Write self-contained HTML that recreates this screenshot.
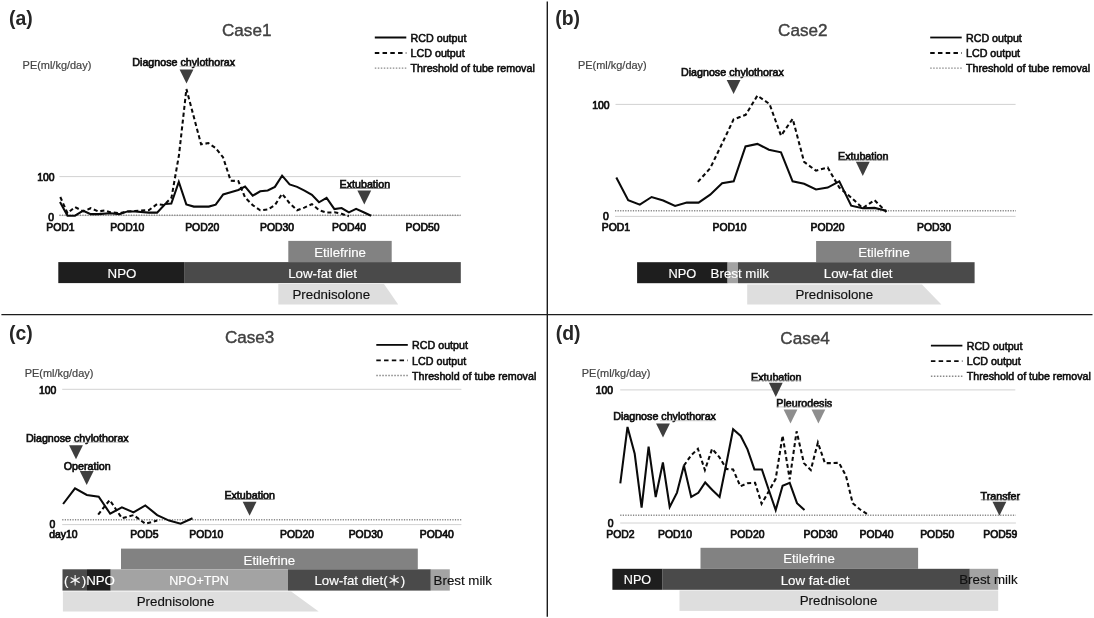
<!DOCTYPE html>
<html lang="en"><head><meta charset="utf-8"><title>Figure: chest tube output in four cases</title>
<style>
html,body{margin:0;padding:0;background:#fff;}
body{width:1094px;height:618px;overflow:hidden;}
svg{display:block;font-family:"Liberation Sans", "Noto Sans CJK JP", sans-serif;filter:grayscale(1);}
.pl{font-size:19.4px;font-weight:bold;fill:#262626;}
.ti{font-size:17.1px;fill:#404040;stroke:#404040;stroke-width:0.4px;}
.pe{font-size:10.95px;fill:#444;stroke:#444;stroke-width:0.2px;}
.ax{font-size:10.4px;fill:#0c0c0c;stroke:#0c0c0c;stroke-width:0.7px;}
.lg{font-size:10.7px;fill:#0c0c0c;stroke:#0c0c0c;stroke-width:0.55px;}
.an{font-size:10.7px;fill:#0c0c0c;stroke:#0c0c0c;stroke-width:0.65px;}
.bw{font-size:13.3px;fill:#fff;stroke:#fff;stroke-width:0.15px;}
.bk{font-size:13.3px;fill:#111;stroke:#111;stroke-width:0.15px;}
.gl{stroke:#d2d2d2;stroke-width:1;fill:none;}
.th{stroke:#8a8a8a;stroke-width:1.4;stroke-dasharray:1.25 1.3;fill:none;}
.so{stroke:#0a0a0a;stroke-width:2.05;fill:none;stroke-linejoin:miter;stroke-linecap:butt;}
.da{stroke:#0a0a0a;stroke-width:2.05;fill:none;stroke-dasharray:4.1 2.8;stroke-linejoin:miter;}
.ul{stroke:#b4b4b4;stroke-width:0.7;fill:none;}
.u2{stroke:#6a6a6a;stroke-width:0.8;fill:none;}
.td{fill:#3e3e3e;}
.tg{fill:#8e8e8e;}
</style></head><body>
<svg width="1094" height="618" viewBox="0 0 1094 618">
<rect x="0" y="0" width="1094" height="618" fill="#fff"/>
<line x1="547.3" y1="1.4" x2="547.3" y2="616.7" stroke="#1c1c1c" stroke-width="1.4"/>
<line x1="1.4" y1="314.6" x2="1092.5" y2="314.6" stroke="#1c1c1c" stroke-width="1.4"/>
<text x="9.00" y="25.20" class="pl">(a)</text>
<text x="222.00" y="35.55" class="ti">Case1</text>
<text x="22.60" y="68.80" class="pe">PE(ml/kg/day)</text>
<line x1="374.8" y1="37.5" x2="406.3" y2="37.5" class="so" style="stroke-width:1.8"/>
<line x1="374.8" y1="53.0" x2="406.3" y2="53.0" class="da" style="stroke-width:1.8;stroke-dasharray:4.5 3.25"/>
<line x1="374.8" y1="68.1" x2="406.3" y2="68.1" class="th" style="stroke-dasharray:1.5 1.5"/>
<text x="410.60" y="41.70" class="lg">RCD output</text>
<text x="410.60" y="57.20" class="lg">LCD output</text>
<text x="410.60" y="72.10" class="lg">Threshold of tube removal</text>
<line x1="59.4" y1="176.6" x2="460.7" y2="176.6" class="gl"/>
<line x1="59.4" y1="215.6" x2="460.7" y2="215.6" class="gl"/>
<line x1="59.4" y1="215.3" x2="460.6" y2="215.3" class="th"/>
<text x="54.60" y="181.15" class="ax" text-anchor="end">100</text>
<text x="54.00" y="220.85" class="ax" text-anchor="end">0</text>
<text x="60.50" y="231.15" class="ax" text-anchor="middle">POD1</text>
<text x="127.30" y="231.15" class="ax" text-anchor="middle">POD10</text>
<text x="202.20" y="231.15" class="ax" text-anchor="middle">POD20</text>
<text x="277.00" y="231.15" class="ax" text-anchor="middle">POD30</text>
<text x="349.00" y="231.15" class="ax" text-anchor="middle">POD40</text>
<text x="422.50" y="231.15" class="ax" text-anchor="middle">POD50</text>
<polyline class="da" points="60.3,197.0 67.5,213.2 75.0,207.0 83.2,211.4 90.7,208.2 98.2,211.4 105.0,210.5 110.0,212.2 119.5,213.2 127.6,211.4 135.0,211.0 149.0,210.1 157.0,204.1 164.0,205.1 171.5,197.6 179.0,155.0 186.4,89.0 201.1,144.4 208.4,143.1 215.7,148.1 223.0,157.2 230.7,180.7 238.3,181.0 245.1,197.6 252.7,205.1 260.2,210.3 267.7,209.5 274.9,205.1 282.1,193.8 289.6,203.2 297.1,210.3 304.4,207.6 311.9,204.1 319.0,210.1 326.6,212.6 334.4,212.3 341.6,213.8 348.9,216.3"/>
<polyline class="so" points="60.0,202.0 67.5,215.7 75.0,215.7 83.2,210.7 90.7,214.1 98.2,214.1 110.1,213.2 119.5,214.1 127.6,211.4 135.1,211.4 148.9,212.6 157.1,212.6 165.2,204.1 171.3,203.5 178.8,181.9 186.3,204.4 193.8,206.6 201.3,206.6 208.8,206.6 215.7,204.7 223.2,194.4 230.7,192.3 238.3,190.0 245.1,186.5 252.7,195.7 260.2,191.3 267.7,190.4 274.9,186.9 282.1,175.6 289.6,184.4 297.1,186.9 304.5,190.7 311.9,194.8 319.0,202.3 326.6,197.8 334.4,209.1 341.6,208.0 348.9,212.3 356.1,208.8 363.6,212.3 371.1,215.7"/>
<text x="132.30" y="65.90" class="an">Diagnose chylothorax</text>
<line x1="179.5" y1="66.3" x2="235" y2="66.3" class="ul"/>
<polygon class="td" points="179.6,69.5 193.4,69.5 186.5,83.6"/>
<text x="339.60" y="188.20" class="an">Extubation</text>
<line x1="339.8" y1="188.4" x2="389.8" y2="188.4" class="u2"/>
<polygon class="td" points="357.4,190.4 371.2,190.4 364.3,204.5"/>
<rect x="288.3" y="240.9" width="103.4" height="21.2" fill="#828282"/>
<rect x="58.3" y="262.1" width="126.4" height="21.0" fill="#1e1e1e"/>
<rect x="184.7" y="262.1" width="276.1" height="21.0" fill="#4a4a4a"/>
<polygon fill="#dedede" points="278.3,284.0 384.0,284.0 398.2,304.6 278.3,304.6"/>
<text x="340.10" y="256.65" class="bw" text-anchor="middle">Etilefrine</text>
<text x="122.00" y="277.55" class="bw" text-anchor="middle">NPO</text>
<text x="322.60" y="277.85" class="bw" text-anchor="middle">Low-fat diet</text>
<text x="331.30" y="299.00" class="bk" text-anchor="middle">Prednisolone</text>
<text x="555.20" y="25.20" class="pl">(b)</text>
<text x="778.10" y="35.55" class="ti">Case2</text>
<text x="578.00" y="69.00" class="pe">PE(ml/kg/day)</text>
<line x1="930.2" y1="37.5" x2="961.7" y2="37.5" class="so" style="stroke-width:1.8"/>
<line x1="930.2" y1="53.0" x2="961.7" y2="53.0" class="da" style="stroke-width:1.8;stroke-dasharray:4.5 3.25"/>
<line x1="930.2" y1="68.1" x2="961.7" y2="68.1" class="th" style="stroke-dasharray:1.5 1.5"/>
<text x="966.00" y="41.70" class="lg">RCD output</text>
<text x="966.00" y="57.20" class="lg">LCD output</text>
<text x="966.00" y="72.10" class="lg">Threshold of tube removal</text>
<line x1="615.5" y1="104.4" x2="1015.6" y2="104.4" class="gl"/>
<line x1="615.0" y1="216.4" x2="1015.6" y2="216.4" class="gl"/>
<line x1="615.0" y1="210.8" x2="1016.0" y2="210.8" class="th"/>
<text x="609.60" y="108.85" class="ax" text-anchor="end">100</text>
<text x="608.90" y="220.05" class="ax" text-anchor="end">0</text>
<text x="615.90" y="230.95" class="ax" text-anchor="middle">POD1</text>
<text x="729.50" y="230.95" class="ax" text-anchor="middle">POD10</text>
<text x="827.50" y="230.95" class="ax" text-anchor="middle">POD20</text>
<text x="934.00" y="230.95" class="ax" text-anchor="middle">POD30</text>
<polyline class="da" points="697.9,181.9 710.2,168.2 722.0,143.8 733.6,119.4 745.7,114.8 757.4,95.6 769.5,104.0 781.0,135.7 792.7,118.8 804.1,161.9 816.0,170.7 827.7,167.5 839.3,187.6 851.2,197.6 862.7,208.2 874.5,200.1 886.4,212.0"/>
<polyline class="so" points="616.3,177.6 628.2,200.3 639.8,204.7 651.6,197.0 663.2,200.5 675.1,206.0 686.8,202.6 698.6,202.6 710.2,194.7 722.1,183.2 733.7,181.3 745.5,146.4 757.4,143.9 768.9,149.7 781.0,152.3 792.6,181.3 804.1,183.8 816.0,189.4 827.7,187.6 839.3,181.3 851.2,205.7 862.7,208.2 874.5,207.9 886.4,210.7"/>
<text x="681.00" y="76.30" class="an">Diagnose chylothorax</text>
<line x1="728" y1="76.7" x2="783.9" y2="76.7" class="ul"/>
<polygon class="td" points="726.7,79.9 740.5,79.9 733.6,94.0"/>
<text x="838.00" y="159.70" class="an">Extubation</text>
<line x1="838.1" y1="159.9" x2="888.2" y2="159.9" class="u2"/>
<polygon class="td" points="855.9,161.8 869.7,161.8 862.8,175.9"/>
<rect x="816.1" y="241.0" width="135.1" height="21.2" fill="#828282"/>
<rect x="637.1" y="262.2" width="90.5" height="21.0" fill="#1e1e1e"/>
<rect x="727.6" y="262.2" width="10.4" height="21.0" fill="#a3a3a3"/>
<rect x="738.0" y="262.2" width="236.6" height="21.0" fill="#4a4a4a"/>
<polygon fill="#dedede" points="747.2,284.6 922.0,284.6 941.4,304.6 747.2,304.6"/>
<text x="884.00" y="256.65" class="bw" text-anchor="middle">Etilefrine</text>
<text x="682.40" y="277.55" class="bw" text-anchor="middle" style="font-size:12.8px">NPO</text>
<text x="739.80" y="277.55" class="bw" text-anchor="middle">Brest milk</text>
<text x="858.20" y="277.75" class="bw" text-anchor="middle">Low-fat diet</text>
<text x="834.30" y="298.90" class="bk" text-anchor="middle">Prednisolone</text>
<text x="9.00" y="340.30" class="pl">(c)</text>
<text x="224.90" y="343.25" class="ti">Case3</text>
<text x="24.70" y="376.60" class="pe">PE(ml/kg/day)</text>
<line x1="376.3" y1="344.9" x2="407.8" y2="344.9" class="so" style="stroke-width:1.8"/>
<line x1="376.3" y1="360.4" x2="407.8" y2="360.4" class="da" style="stroke-width:1.8;stroke-dasharray:4.5 3.25"/>
<line x1="376.3" y1="375.5" x2="407.8" y2="375.5" class="th" style="stroke-dasharray:1.5 1.5"/>
<text x="412.10" y="349.10" class="lg">RCD output</text>
<text x="412.10" y="364.60" class="lg">LCD output</text>
<text x="412.10" y="379.50" class="lg">Threshold of tube removal</text>
<line x1="62.2" y1="389.3" x2="461.4" y2="389.3" class="gl"/>
<line x1="62.2" y1="524.6" x2="461.4" y2="524.6" class="gl"/>
<line x1="62.2" y1="519.8" x2="461.6" y2="519.8" class="th"/>
<text x="56.40" y="393.65" class="ax" text-anchor="end">100</text>
<text x="55.20" y="527.65" class="ax" text-anchor="end">0</text>
<text x="63.30" y="538.45" class="ax" text-anchor="middle">day10</text>
<text x="144.40" y="538.45" class="ax" text-anchor="middle">POD5</text>
<text x="206.30" y="538.45" class="ax" text-anchor="middle">POD10</text>
<text x="297.00" y="538.45" class="ax" text-anchor="middle">POD20</text>
<text x="365.70" y="538.45" class="ax" text-anchor="middle">POD30</text>
<text x="436.80" y="538.45" class="ax" text-anchor="middle">POD40</text>
<polyline class="da" points="98.2,514.6 109.7,500.0 121.9,518.2 133.5,515.1 145.3,523.7 157.2,520.6"/>
<polyline class="so" points="63.1,504.0 75.0,488.4 86.8,495.0 98.7,496.7 110.2,513.7 121.9,507.3 133.5,512.4 145.3,505.4 157.2,515.1 169.1,520.6 180.6,523.7 192.5,518.2"/>
<text x="25.90" y="441.80" class="an">Diagnose chylothorax</text>
<line x1="73" y1="442.2" x2="128.3" y2="442.2" class="ul"/>
<polygon class="td" points="69.1,445.2 82.9,445.2 76.0,459.3"/>
<text x="63.80" y="469.70" class="an">Operation</text>
<polygon class="td" points="79.8,470.9 93.6,470.9 86.7,485.0"/>
<text x="224.40" y="499.10" class="an">Extubation</text>
<line x1="224.6" y1="499.3" x2="274.3" y2="499.3" class="u2"/>
<polygon class="td" points="242.7,501.7 256.5,501.7 249.6,515.8"/>
<rect x="121.0" y="548.6" width="296.8" height="20.7" fill="#828282"/>
<rect x="62.5" y="569.3" width="24.5" height="21.3" fill="#4a4a4a"/>
<rect x="87.0" y="569.3" width="23.7" height="21.3" fill="#1e1e1e"/>
<rect x="110.7" y="569.3" width="177.3" height="21.3" fill="#a3a3a3"/>
<rect x="288.0" y="569.3" width="142.8" height="21.3" fill="#4a4a4a"/>
<rect x="430.8" y="569.3" width="19.0" height="21.3" fill="#a3a3a3"/>
<polygon fill="#dedede" points="62.9,591.6 291.2,591.6 318.7,611.4 62.9,611.4"/>
<text x="269.40" y="564.55" class="bw" text-anchor="middle">Etilefrine</text>
<text x="64.00" y="584.85" class="bw">(＊)NPO</text>
<text x="199.10" y="584.85" class="bw" text-anchor="middle" style="font-size:12.55px">NPO+TPN</text>
<text x="314.40" y="584.85" class="bw">Low-fat diet(＊)</text>
<text x="433.60" y="584.50" class="bk">Brest milk</text>
<text x="175.50" y="605.60" class="bk" text-anchor="middle">Prednisolone</text>
<text x="555.80" y="340.00" class="pl">(d)</text>
<text x="780.30" y="343.95" class="ti">Case4</text>
<text x="581.80" y="377.00" class="pe">PE(ml/kg/day)</text>
<line x1="930.9" y1="345.6" x2="962.4" y2="345.6" class="so" style="stroke-width:1.8"/>
<line x1="930.9" y1="361.1" x2="962.4" y2="361.1" class="da" style="stroke-width:1.8;stroke-dasharray:4.5 3.25"/>
<line x1="930.9" y1="376.2" x2="962.4" y2="376.2" class="th" style="stroke-dasharray:1.5 1.5"/>
<text x="966.70" y="349.80" class="lg">RCD output</text>
<text x="966.70" y="365.30" class="lg">LCD output</text>
<text x="966.70" y="380.20" class="lg">Threshold of tube removal</text>
<line x1="620.2" y1="389.9" x2="1015.3" y2="389.9" class="gl"/>
<line x1="620.2" y1="523.0" x2="1015.9" y2="523.0" class="gl"/>
<line x1="620.2" y1="515.2" x2="1015.8" y2="515.2" class="th"/>
<text x="613.00" y="393.85" class="ax" text-anchor="end">100</text>
<text x="613.60" y="526.65" class="ax" text-anchor="end">0</text>
<text x="620.50" y="538.15" class="ax" text-anchor="middle">POD2</text>
<text x="675.10" y="538.15" class="ax" text-anchor="middle">POD10</text>
<text x="747.40" y="538.15" class="ax" text-anchor="middle">POD20</text>
<text x="820.50" y="538.15" class="ax" text-anchor="middle">POD30</text>
<text x="876.50" y="538.15" class="ax" text-anchor="middle">POD40</text>
<text x="937.20" y="538.15" class="ax" text-anchor="middle">POD50</text>
<text x="1000.30" y="538.15" class="ax" text-anchor="middle">POD59</text>
<polyline class="da" points="683.9,465.6 691.0,455.5 697.9,448.8 704.9,470.1 712.1,448.8 719.3,457.0 726.4,469.0 733.1,469.4 740.3,486.3 747.5,483.2 755.1,482.8 761.6,503.8 768.8,491.3 775.7,478.8 782.6,435.6 789.7,479.4 796.6,431.3 803.9,463.1 810.8,470.0 817.9,442.5 824.9,463.1 832.1,463.1 839.0,462.8 845.9,475.7 852.7,503.2 859.8,509.3 866.9,513.9"/>
<polyline class="so" points="620.3,483.4 627.5,426.9 634.7,453.8 641.6,507.6 648.6,446.6 655.7,497.0 662.9,462.5 669.7,507.0 677.0,492.6 683.9,465.6 691.2,497.0 698.3,492.8 705.2,482.5 712.3,490.0 719.6,497.0 726.5,463.0 733.1,429.3 740.7,436.0 747.5,449.4 754.4,469.4 761.9,469.4 768.8,490.0 775.7,510.1 782.6,485.7 789.7,482.8 797.0,503.2 804.5,510.1"/>
<text x="613.20" y="420.30" class="an">Diagnose chylothorax</text>
<line x1="660" y1="420.7" x2="714.9" y2="420.7" class="ul"/>
<polygon class="td" points="656.1,423.5 669.9,423.5 663.0,437.6"/>
<text x="751.00" y="380.50" class="an">Extubation</text>
<line x1="751.9" y1="380.7" x2="801.2" y2="380.7" class="ul"/>
<polygon class="td" points="768.9,382.8 782.7,382.8 775.8,396.9"/>
<text x="776.30" y="406.70" class="an">Pleurodesis</text>
<line x1="776.5" y1="406.9" x2="831.2" y2="406.9" class="ul"/>
<polygon class="tg" points="783.6,409.5 797.4,409.5 790.5,423.6"/>
<polygon class="tg" points="811.5,409.5 825.3,409.5 818.4,423.6"/>
<text x="980.60" y="499.60" class="an">Transfer</text>
<line x1="980.8" y1="499.8" x2="1019.5" y2="499.8" class="u2"/>
<polygon class="td" points="992.5,501.7 1006.3,501.7 999.4,515.8"/>
<rect x="700.5" y="547.8" width="217.6" height="21.0" fill="#828282"/>
<rect x="612.4" y="568.8" width="49.8" height="21.0" fill="#1e1e1e"/>
<rect x="662.2" y="568.8" width="307.6" height="21.0" fill="#4a4a4a"/>
<rect x="969.8" y="568.8" width="28.4" height="21.0" fill="#a3a3a3"/>
<rect x="679.5" y="590.4" width="318.7" height="20.5" fill="#dedede"/>
<text x="809.00" y="563.05" class="bw" text-anchor="middle">Etilefrine</text>
<text x="637.50" y="584.45" class="bw" text-anchor="middle" style="font-size:12.6px">NPO</text>
<text x="815.00" y="584.65" class="bw" text-anchor="middle">Low fat-diet</text>
<text x="959.20" y="584.30" class="bk">Brest milk</text>
<text x="838.50" y="605.10" class="bk" text-anchor="middle">Prednisolone</text>
</svg>
</body></html>
